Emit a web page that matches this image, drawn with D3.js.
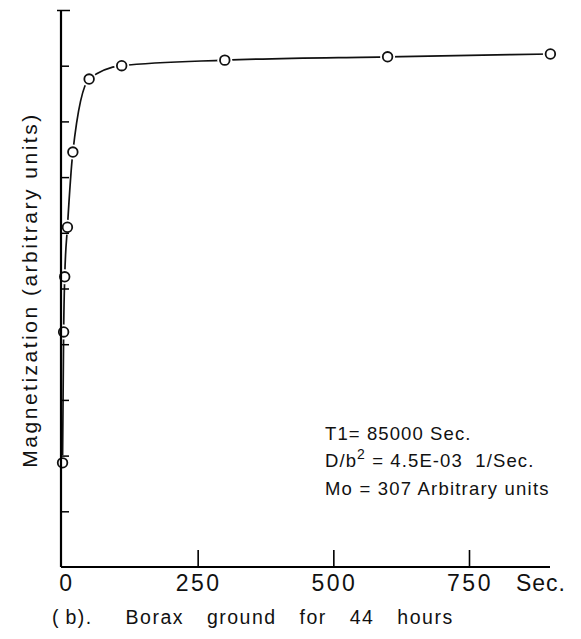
<!DOCTYPE html>
<html lang="en">
<head>
  <meta charset="UTF-8">
  <title>Borax magnetization</title>
  <script src="https://d3js.org/d3.v7.min.js"></script>
  <style>
    body { margin: 0; background: #fff; }
    text { font-family: "Liberation Sans", Arial, sans-serif; fill: #111; }
  </style>
</head>
<body>
  <div id="chart"></div>
  <script>
    // data (time in seconds, magnetization in tick units)
    const times = [1, 3, 5, 10, 20, 50, 110, 300, 600, 900];
    const magnet = [1.87, 4.22, 5.21, 6.1, 7.45, 8.76, 9.0, 9.1, 9.16, 9.21];
    const xTicks = [250, 500, 750];
    const xLabels = ["0", "250", "500", "750"];
    const notes = ["T1= 85000 Sec.", "D/b", " = 4.5E-03  1/Sec.", "Mo = 307 Arbitrary units"];
    const captionHead = "(\u2009b).";
    const captionTail = " Borax ground for 44 hours";

    const width = 581, height = 639;
    const svg = d3.select("#chart").append("svg")
      .attr("width", width)
      .attr("height", height);

    const x = d3.scaleLinear().domain([0, 750]).range([62, 469]);
    const y = d3.scaleLinear().domain([0, 10]).range([567, 10]);

    const pts = times.map((t, i) => [x(t), y(magnet[i])]);

    // fitted curve
    const line = d3.line().curve(d3.curveMonotoneX);
    svg.append("path")
      .attr("d", line(pts))
      .attr("fill", "none")
      .attr("stroke", "#111")
      .attr("stroke-width", 1.7);

    // white halo so the curve stops short of each marker
    svg.selectAll("circle.halo")
      .data(pts)
      .join("circle")
      .attr("class", "halo")
      .attr("cx", d => d[0])
      .attr("cy", d => d[1])
      .attr("r", 7.5)
      .attr("fill", "#fff");

    svg.selectAll("circle.pt")
      .data(pts)
      .join("circle")
      .attr("class", "pt")
      .attr("cx", d => d[0])
      .attr("cy", d => d[1])
      .attr("r", 4.8)
      .attr("fill", "#fff")
      .attr("stroke", "#111")
      .attr("stroke-width", 1.8);

    // y axis: inward ticks, no labels
    const yAxis = d3.axisRight(y)
      .tickValues(d3.range(1, 11))
      .tickSize(8)
      .tickFormat("");
    const gy = svg.append("g")
      .attr("transform", `translate(${x(0) - 1},0)`)
      .call(yAxis);
    gy.select(".domain").attr("d", `M0,${y(0)}V${y(10)}`).attr("stroke-width", 2.2);
    gy.selectAll(".tick line").attr("stroke-width", 1.5);
    gy.select(".tick:last-of-type line").attr("x1", -4).attr("x2", 9);

    // x axis: upward ticks
    const xAxis = d3.axisTop(x)
      .tickValues(xTicks)
      .tickSize(17)
      .tickFormat("");
    const gx = svg.append("g")
      .attr("transform", `translate(0,${y(0)})`)
      .call(xAxis);
    gx.select(".domain").attr("d", `M${x(0) - 1},0H550`).attr("stroke-width", 2);
    gx.selectAll(".tick line").attr("stroke-width", 1.6);

    svg.selectAll("text.xl")
      .data([0].concat(xTicks))
      .join("text")
      .attr("class", "xl")
      .attr("x", (d, i) => i === 0 ? x(d) + 5 : x(d) + 1)
      .attr("y", 591)
      .attr("text-anchor", "middle")
      .attr("font-size", 23)
      .attr("letter-spacing", 2.5)
      .text((d, i) => xLabels[i]);

    svg.append("text")
      .attr("x", 541)
      .attr("y", 591)
      .attr("text-anchor", "middle")
      .attr("font-size", 23)
      .attr("letter-spacing", 1)
      .text("Sec.");

    // caption
    const cap = svg.append("text")
      .attr("x", 52)
      .attr("y", 624)
      .attr("font-size", 19.5)
      .attr("letter-spacing", 1.5)
      .attr("xml:space", "preserve");
    cap.append("tspan").text(captionHead);
    cap.append("tspan").attr("dx", 10).attr("word-spacing", 16).text(captionTail);

    // y axis title
    svg.append("text")
      .attr("transform", "translate(37,290) rotate(-90)")
      .attr("text-anchor", "middle")
      .attr("font-size", 21)
      .attr("letter-spacing", 2.5)
      .text("Magnetization (arbitrary units)");

    // parameter notes
    const nx = 325;
    svg.append("text")
      .attr("x", nx).attr("y", 440)
      .attr("font-size", 18.5)
      .attr("letter-spacing", 1.1)
      .text(notes[0]);
    const t2 = svg.append("text")
      .attr("x", nx).attr("y", 467)
      .attr("font-size", 18.5)
      .attr("letter-spacing", 1.1)
      .attr("xml:space", "preserve");
    t2.append("tspan").text(notes[1]);
    t2.append("tspan").attr("dy", -8).attr("font-size", 14).text("2");
    t2.append("tspan").attr("dy", 8).text(notes[2]);
    svg.append("text")
      .attr("x", nx).attr("y", 495)
      .attr("font-size", 18.5)
      .attr("letter-spacing", 1.2)
      .text(notes[3]);
  </script>
</body>
</html>
